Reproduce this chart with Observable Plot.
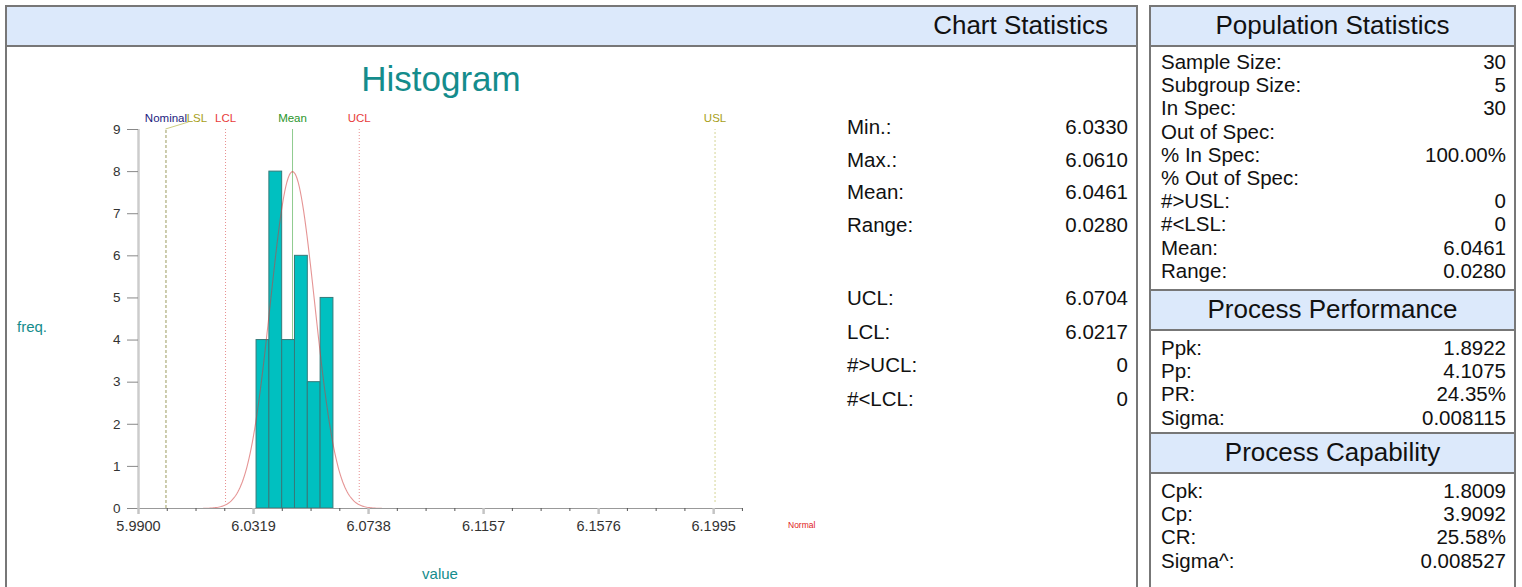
<!DOCTYPE html>
<html><head><meta charset="utf-8">
<script src="https://cdn.jsdelivr.net/npm/d3@7"></script>
<script src="https://cdn.jsdelivr.net/npm/@observablehq/plot@0.6"></script>
<style>
html,body{margin:0;padding:0;width:1522px;height:587px;overflow:hidden;background:#fff;font-family:"Liberation Sans",Arial,sans-serif;color:#111;}
.box{position:absolute;box-sizing:border-box;border:2px solid #777;}
.hdr{position:absolute;box-sizing:border-box;background:#dce9fb;border:2px solid #777;font-size:26px;line-height:36px;}
.row{position:absolute;white-space:nowrap;}
.row .v{position:absolute;right:0;top:0;}
.lbl{position:absolute;white-space:nowrap;}
#plot{position:absolute;left:0;top:0;}
</style></head>
<body>
<script>
// ---------- data ----------
const xDomain = [5.99, 6.21];
const xTickValues = [5.9900, 6.0319, 6.0738, 6.1157, 6.1576, 6.1995];
const yTickValues = [0, 1, 2, 3, 4, 5, 6, 7, 8, 9];
const binStart = [6.0330, 6.03767, 6.04233, 6.0470, 6.05167, 6.05633];
const binEnd   = [6.03767, 6.04233, 6.0470, 6.05167, 6.05633, 6.0610];
const freq     = [4, 8, 4, 6, 3, 5];
const limitNames  = ["Nominal", "LSL", "LCL", "Mean", "UCL", "USL"];
const limitValues = [6.0000, 6.0000, 6.0217, 6.0461, 6.0704, 6.2000];
const fitMean = 6.0461, fitSigma = 0.008115, fitPeak = 8;

const chartStatLabels1 = ["Min.:", "Max.:", "Mean:", "Range:"];
const chartStatValues1 = ["6.0330", "6.0610", "6.0461", "0.0280"];
const chartStatLabels2 = ["UCL:", "LCL:", "#>UCL:", "#<LCL:"];
const chartStatValues2 = ["6.0704", "6.0217", "0", "0"];
const popLabels = ["Sample Size:", "Subgroup Size:", "In Spec:", "Out of Spec:", "% In Spec:", "% Out of Spec:", "#>USL:", "#<LSL:", "Mean:", "Range:"];
const popValues = ["30", "5", "30", "", "100.00%", "", "0", "0", "6.0461", "0.0280"];
const perfLabels = ["Ppk:", "Pp:", "PR:", "Sigma:"];
const perfValues = ["1.8922", "4.1075", "24.35%", "0.008115"];
const capLabels = ["Cpk:", "Cp:", "CR:", "Sigma^:"];
const capValues = ["1.8009", "3.9092", "25.58%", "0.008527"];

// ---------- styles ----------
const limitStyle = {
  Nominal: {label: "#1c1c80", line: "#9a9ab8", dash: "3,2", inset: 0, dx: 0},
  LSL:     {label: "#a8a020", line: "#cccc80", dash: "3,2", inset: 0, dx: 31},
  LCL:     {label: "#e83c3c", line: "#e89090", dash: "1,2", inset: -6, dx: 0},
  Mean:    {label: "#2a962a", line: "#90cc90", dash: null, inset: -6, dx: 0},
  UCL:     {label: "#e83c3c", line: "#e89090", dash: "1,2", inset: -6, dx: 0},
  USL:     {label: "#a8a020", line: "#d4d494", dash: "2,2", inset: -6, dx: 0}
};

function el(tag, cls, css, text) {
  const e = document.createElement(tag);
  if (cls) e.className = cls;
  Object.assign(e.style, css || {});
  if (text != null) e.textContent = text;
  document.body.appendChild(e);
  return e;
}

// ---------- panels ----------
el("div", "box", {left: "5px", top: "5px", width: "1133px", height: "700px"});
el("div", "hdr", {left: "5px", top: "5px", width: "1133px", height: "42px", textAlign: "right", paddingRight: "28px"}, "Chart Statistics");
el("div", "box", {left: "1149px", top: "5px", width: "367px", height: "700px"});
el("div", "hdr", {left: "1149px", top: "5px", width: "367px", height: "42px", textAlign: "center"}, "Population Statistics");
el("div", "hdr", {left: "1149px", top: "289px", width: "367px", height: "42px", textAlign: "center"}, "Process Performance");
el("div", "hdr", {left: "1149px", top: "432px", width: "367px", height: "42px", textAlign: "center"}, "Process Capability");

// ---------- histogram ----------
const bins = freq.map((f, i) => ({x1: binStart[i], x2: binEnd[i], freq: f}));
const limits = limitNames.map((n, i) => ({name: n, value: limitValues[i]}));
const fitPts = d3.range(-4, 4.0001, 0.05).map(z => ({
  x: fitMean + z * fitSigma,
  y: fitPeak * Math.exp(-0.5 * z * z)
}));
const minorTicks = [];
for (let i = 0; i < xTickValues.length; i++) {
  const step = (xTickValues[1] - xTickValues[0]) / 4;
  for (let k = 1; k < 4; k++) {
    const v = xTickValues[i] + k * step;
    if (v <= xDomain[1] + 1e-9) minorTicks.push(v);
  }
}

const limitMarks = [];
limits.forEach(d => {
  const s = limitStyle[d.name];
  limitMarks.push(Plot.ruleX([d], {x: "value", y1: 0, y2: 9, insetTop: s.inset, stroke: s.line, strokeWidth: 1, strokeDasharray: s.dash}));
  limitMarks.push(Plot.text([d], {x: "value", text: "name", frameAnchor: "top", dy: -11, dx: s.dx, lineAnchor: "middle", fill: s.label, fontSize: 11.5}));
});

const chart = Plot.plot({
  width: 1140, height: 587,
  marginLeft: 138, marginRight: 398, marginTop: 129, marginBottom: 79,
  style: {background: "transparent", overflow: "visible", fontFamily: "'Liberation Sans', Arial, sans-serif"},
  x: {domain: xDomain},
  y: {domain: [0, 9]},
  marks: [
    ...limitMarks,
    Plot.rectY(bins, {x1: "x1", x2: "x2", y: "freq", fill: "#00c0c0", stroke: "#357a7a", strokeWidth: 1}),
    Plot.line(fitPts, {x: "x", y: "y", stroke: "#d03c3c", strokeOpacity: 0.55, strokeWidth: 1.1}),
    Plot.ruleX([xDomain[0]], {stroke: "#cccccc", strokeWidth: 2.5}),
    Plot.ruleY([0], {stroke: "#999", strokeWidth: 1}),
    Plot.axisY({ticks: yTickValues, tickSize: 11, tickPadding: 7, stroke: "#888", fill: "#333", fontSize: 13.5, label: null, tickFormat: d3.format("d")}),
    Plot.axisX({ticks: minorTicks, tickSize: 3, stroke: "#555", tickFormat: () => "", label: null}),
    Plot.axisX({ticks: xTickValues, tickSize: 6, strokeWidth: 2.5, stroke: "#c4c4c4", tickPadding: 6, fill: "#333", fontSize: 14.5, tickFormat: d3.format(".4f"), label: null})
  ]
});
chart.id = "plot";
document.body.appendChild(chart);

// leader line from LSL label to its limit line
const sx = chart.scale("x"), sy = chart.scale("y");
const lx = sx.apply(limitValues[1]), ly = sy.apply(9);
d3.select(chart).append("line")
  .attr("x1", lx).attr("y1", ly).attr("x2", lx + 23).attr("y2", ly - 7)
  .attr("stroke", "#cccc80").attr("stroke-width", 1);

// ---------- chart labels ----------
el("div", "lbl", {left: "0px", top: "57px", width: "882px", textAlign: "center", fontSize: "35px", color: "#148c8c", lineHeight: "44px"}, "Histogram");
el("div", "lbl", {left: "17px", top: "318px", fontSize: "15px", color: "#148c8c", lineHeight: "18px"}, "freq.");
el("div", "lbl", {left: "340px", top: "565px", width: "200px", textAlign: "center", fontSize: "15px", color: "#148c8c", lineHeight: "18px"}, "value");
el("div", "lbl", {left: "788px", top: "520px", fontSize: "8.5px", color: "#e02020", lineHeight: "10px"}, "Normal");

// ---------- stats text ----------
function rows(labels, values, left, right, top0, step, size) {
  labels.forEach((l, i) => {
    const r = el("div", "row", {left: left + "px", width: (right - left) + "px", top: (top0 + i * step) + "px", fontSize: size + "px", lineHeight: "24px"}, l);
    const v = document.createElement("span");
    v.className = "v"; v.textContent = values[i];
    r.appendChild(v);
  });
}
rows(chartStatLabels1, chartStatValues1, 847, 1128, 127 - 12, 32.7, 20.5);
rows(chartStatLabels2, chartStatValues2, 847, 1128, 298 - 12, 33.7, 20.5);
rows(popLabels, popValues, 1161, 1506, 62 - 12, 23.2, 20.5);
rows(perfLabels, perfValues, 1161, 1506, 348 - 12, 23.2, 20.5);
rows(capLabels, capValues, 1161, 1506, 491 - 12, 23.2, 20.5);
</script>
</body></html>
